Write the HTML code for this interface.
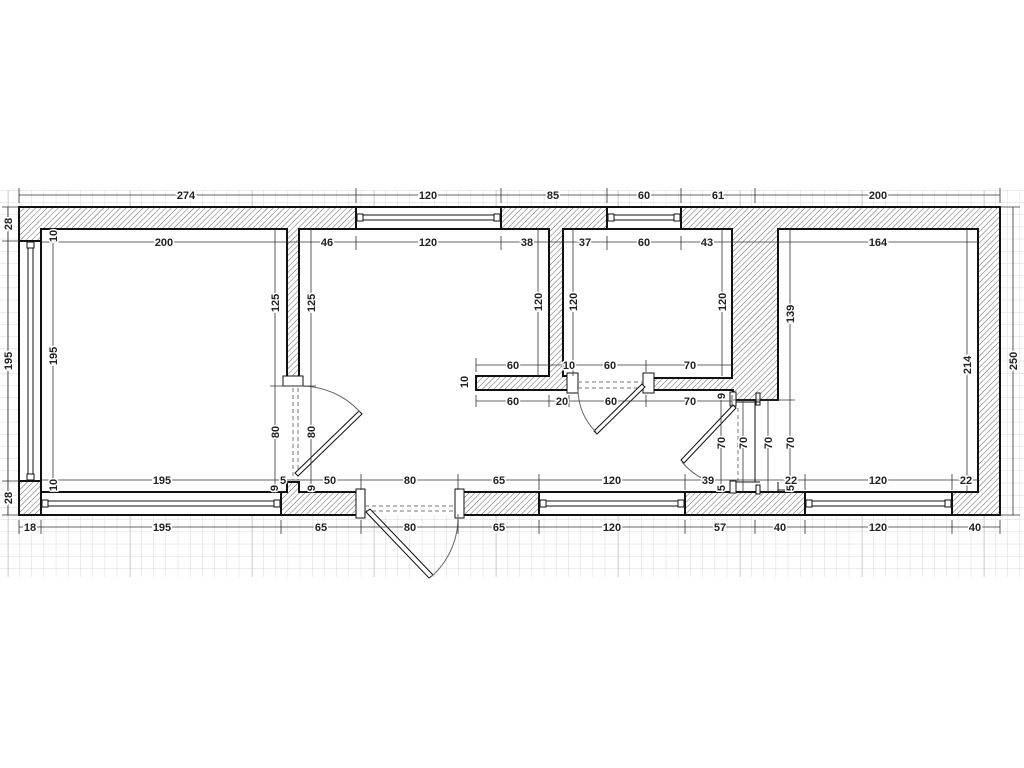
<!DOCTYPE html>
<html><head><meta charset="utf-8"><style>
html,body{margin:0;padding:0;background:#fff;}
svg{display:block;}
text{font-family:"Liberation Sans",Arial,sans-serif;font-size:11px;font-weight:bold;fill:#222;stroke:#fff;stroke-width:3px;paint-order:stroke;}
</style></head><body>
<svg width="1024" height="768" viewBox="0 0 1024 768" xmlns="http://www.w3.org/2000/svg">
<defs>
<pattern id="minor" width="12.2" height="12.2" patternUnits="userSpaceOnUse" x="7" y="190">
<path d="M0 0H12.2M0 0V12.2" stroke="#d8d8d8" stroke-width="1" fill="none"/>
</pattern>
<pattern id="major" width="122" height="122" patternUnits="userSpaceOnUse" x="8" y="190">
<path d="M0 0V122" stroke="#bdbdbd" stroke-width="1" fill="none"/>
</pattern>
<pattern id="hatch" width="4" height="4" patternUnits="userSpaceOnUse" patternTransform="rotate(45)">
<rect width="4" height="4" fill="#fff"/>
<line x1="0" y1="0" x2="0" y2="4" stroke="#666" stroke-width="1"/>
</pattern>
</defs>
<rect x="0" y="190" width="1024" height="387" fill="url(#minor)"/>
<rect x="0" y="190" width="1024" height="387" fill="url(#major)"/>
<rect x="19" y="207" width="981" height="308" fill="#fff"/>

<g stroke="#111" stroke-width="2" fill="url(#hatch)">
<path d="M19 207H1000V515H952V492H978V229H778V400H733V390H646V378H732V229H681V207H607V229H563V376H569V390H476V376H549V229H501V207H356V229H299V378H287V229H41V241H19Z"/>
<rect x="19" y="481" width="22" height="34"/>
<path d="M281 515V492H287V482H299V492H361V515Z"/>
<rect x="458" y="492" width="81" height="23"/>
<rect x="685" y="492" width="120" height="23"/>
</g>
<g stroke="#111" stroke-width="2" fill="#fff">
<rect x="356" y="207" width="145" height="22"/>
<rect x="607" y="207" width="74" height="22"/>
<rect x="41" y="492" width="240" height="23"/>
<rect x="539" y="492" width="146" height="23"/>
<rect x="805" y="492" width="147" height="23"/>
<rect x="19" y="241" width="22" height="240"/>
</g>
<g stroke="#111" stroke-width="1" fill="#fff">
<line x1="360" y1="215" x2="497" y2="215"/><line x1="360" y1="220" x2="497" y2="220"/>
<line x1="611" y1="215" x2="677" y2="215"/><line x1="611" y1="220" x2="677" y2="220"/>
<line x1="45" y1="501" x2="277" y2="501"/><line x1="45" y1="506" x2="277" y2="506"/>
<line x1="543" y1="501" x2="681" y2="501"/><line x1="543" y1="506" x2="681" y2="506"/>
<line x1="809" y1="501" x2="948" y2="501"/><line x1="809" y1="506" x2="948" y2="506"/>
<line x1="28" y1="245" x2="28" y2="477"/><line x1="33" y1="245" x2="33" y2="477"/>
<rect x="357" y="214" width="6" height="7"/><rect x="494" y="214" width="6" height="7"/>
<rect x="608" y="214" width="6" height="7"/><rect x="674" y="214" width="6" height="7"/>
<rect x="42" y="500" width="6" height="7"/><rect x="274" y="500" width="6" height="7"/>
<rect x="540" y="500" width="6" height="7"/><rect x="678" y="500" width="6" height="7"/>
<rect x="806" y="500" width="6" height="7"/><rect x="945" y="500" width="6" height="7"/>
<rect x="27" y="242" width="7" height="6"/><rect x="27" y="474" width="7" height="6"/>
<rect x="283" y="376" width="20" height="10"/>
<rect x="356" y="489" width="9" height="29"/><rect x="455" y="489" width="9" height="29"/>
<rect x="567" y="373" width="11" height="20"/><rect x="643" y="373" width="11" height="20"/>
<rect x="730" y="392" width="6" height="14"/><rect x="730" y="481" width="6" height="12"/>
<rect x="756" y="393" width="4" height="12"/><rect x="756" y="485" width="4" height="9"/>
</g>
<g stroke="#777" stroke-width="1" stroke-dasharray="4,3" fill="none">
<line x1="293" y1="388" x2="293" y2="480"/><line x1="298" y1="388" x2="298" y2="480"/>
<line x1="365" y1="506" x2="455" y2="506"/><line x1="365" y1="511" x2="455" y2="511"/>
<line x1="578" y1="382" x2="643" y2="382"/><line x1="578" y1="388" x2="643" y2="388"/>
<line x1="738" y1="408" x2="738" y2="481"/>
</g>
<g stroke="#111" stroke-width="1" fill="none">
<line x1="736" y1="402" x2="760" y2="402"/><line x1="736" y1="482" x2="760" y2="482"/>
<line x1="755" y1="400" x2="755" y2="482"/><line x1="778" y1="482" x2="778" y2="492"/><line x1="778" y1="490" x2="785" y2="490"/>
</g>
<g stroke="#111" stroke-width="1" fill="#fff">
<polygon points="295,473 359,411 362,414 298,476"/>
<polygon points="366,512 370,509 433,575 429,578"/>
<polygon points="642,384 645,387 597,434 594,431"/>
<polygon points="733,405 736,408 684,463 681,460"/>
</g>
<g stroke="#666" stroke-width="1" fill="none">
<path d="M300 386 A80 80 0 0 1 360 412"/>
<path d="M458 514 A80 80 0 0 1 431 577"/>
<path d="M578 390 A60 60 0 0 0 596 432"/>
<path d="M682 462 A70 70 0 0 0 710 482"/>
</g>
<g stroke="#333" stroke-width="0.8" fill="none">
<line x1="19" y1="195" x2="1000" y2="195"/>
<path d="M19 188V203M356 188V203M501 188V203M607 188V203M681 188V203M755 188V203M1000 188V203"/>
<line x1="41" y1="242" x2="978" y2="242"/>
<path d="M356 236V250M501 236V250M607 236V250M681 236V250"/>
<line x1="8" y1="207" x2="8" y2="515"/>
<path d="M2 207H19M2 241H19M2 481H19M2 515H19"/>
<line x1="1013" y1="207" x2="1013" y2="515"/><path d="M1000 207H1020M1000 515H1020"/>
<line x1="53" y1="229" x2="53" y2="492"/>
<line x1="275" y1="229" x2="275" y2="490"/><line x1="311" y1="229" x2="311" y2="490"/>
<path d="M270 386H316"/>
<line x1="538" y1="229" x2="538" y2="376"/><line x1="573" y1="229" x2="573" y2="376"/>
<line x1="722" y1="229" x2="722" y2="376"/>
<line x1="790" y1="229" x2="790" y2="400"/><line x1="967" y1="229" x2="967" y2="492"/>
<line x1="476" y1="365" x2="732" y2="365"/><path d="M476 358V372M646 360V372"/>
<line x1="476" y1="401" x2="732" y2="401"/><path d="M476 395V407M549 395V407M569 395V407M646 395V407M732 395V407"/>
<line x1="721" y1="400" x2="721" y2="492"/><line x1="743" y1="400" x2="743" y2="492"/>
<line x1="768" y1="400" x2="768" y2="492"/><line x1="790" y1="400" x2="790" y2="492"/>
<line x1="733" y1="400" x2="795" y2="400"/>
<line x1="41" y1="480" x2="978" y2="480"/>
<path d="M361 474V490M458 474V490M539 474V490M685 474V490M805 474V490M952 474V490"/>
<line x1="19" y1="527" x2="1000" y2="527"/>
<path d="M19 520V534M41 520V534M281 520V534M361 520V534M458 520V534M539 520V534M685 520V534M755 520V534M805 520V534M952 520V534M1000 520V534"/>
</g>
<g text-anchor="middle">
<text x="186" y="199">274</text><text x="428" y="199">120</text><text x="553" y="199">85</text>
<text x="644" y="199">60</text><text x="718" y="199">61</text><text x="878" y="199">200</text>
<text x="164" y="246">200</text><text x="327" y="246">46</text><text x="428" y="246">120</text>
<text x="527" y="246">38</text><text x="585" y="246">37</text><text x="644" y="246">60</text>
<text x="707" y="246">43</text><text x="878" y="246">164</text>
<text x="513" y="369">60</text><text x="569" y="369">10</text><text x="610" y="369">60</text><text x="690" y="369">70</text>
<text x="513" y="405">60</text><text x="562" y="405">20</text><text x="611" y="405">60</text><text x="690" y="405">70</text>
<text x="162" y="484">195</text><text x="283" y="484">5</text><text x="330" y="484">50</text>
<text x="410" y="484">80</text><text x="499" y="484">65</text><text x="612" y="484">120</text>
<text x="708" y="484">39</text><text x="791" y="484">22</text><text x="878" y="484">120</text><text x="966" y="484">22</text>
<text x="30" y="531">18</text><text x="162" y="531">195</text><text x="321" y="531">65</text>
<text x="410" y="531">80</text><text x="499" y="531">65</text><text x="612" y="531">120</text>
<text x="720" y="531">57</text><text x="780" y="531">40</text><text x="878" y="531">120</text><text x="975" y="531">40</text>
<text transform="translate(12,224) rotate(-90)">28</text>
<text transform="translate(12,361) rotate(-90)">195</text>
<text transform="translate(12,498) rotate(-90)">28</text>
<text transform="translate(1017,361) rotate(-90)">250</text>
<text transform="translate(57,236) rotate(-90)">10</text>
<text transform="translate(57,356) rotate(-90)">195</text>
<text transform="translate(57,485) rotate(-90)">10</text>
<text transform="translate(279,303) rotate(-90)">125</text>
<text transform="translate(315,303) rotate(-90)">125</text>
<text transform="translate(279,432) rotate(-90)">80</text>
<text transform="translate(315,432) rotate(-90)">80</text>
<text transform="translate(278,488) rotate(-90)">9</text>
<text transform="translate(315,488) rotate(-90)">9</text>
<text transform="translate(542,302) rotate(-90)">120</text>
<text transform="translate(577,302) rotate(-90)">120</text>
<text transform="translate(726,302) rotate(-90)">120</text>
<text transform="translate(794,314) rotate(-90)">139</text>
<text transform="translate(971,365) rotate(-90)">214</text>
<text transform="translate(468,382) rotate(-90)">10</text>
<text transform="translate(725,396) rotate(-90)">9</text>
<text transform="translate(725,443) rotate(-90)">70</text>
<text transform="translate(747,443) rotate(-90)">70</text>
<text transform="translate(772,443) rotate(-90)">70</text>
<text transform="translate(794,443) rotate(-90)">70</text>
<text transform="translate(725,488) rotate(-90)">5</text>
<text transform="translate(794,488) rotate(-90)">5</text>
</g>
</svg>
</body></html>
